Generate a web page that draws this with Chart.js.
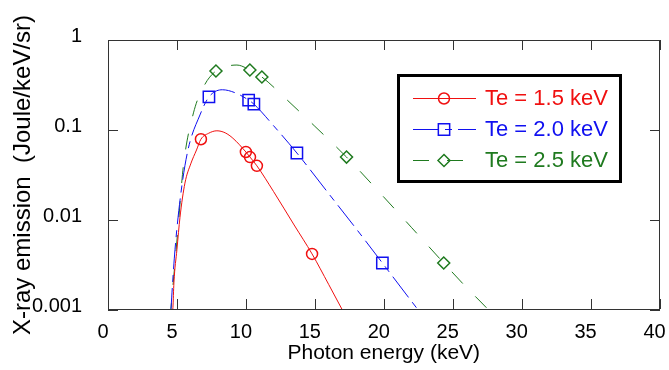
<!DOCTYPE html>
<html>
<head>
<meta charset="utf-8">
<script src="https://cdn.jsdelivr.net/npm/chart.js@4/dist/chart.umd.min.js"></script>
<style>
  html, body { margin: 0; padding: 0; background: #fff; }
  #wrap { width: 669px; height: 370px; }
</style>
</head>
<body>
<div id="wrap"><canvas id="spectrum" width="669" height="370"></canvas></div>
<script>
// photon energy (keV) / emission (Joule/keV/sr)
const te15Energy   = [4.6, 4.71, 4.78, 5.0, 5.22, 5.58, 6.0, 6.42, 6.74, 7.3, 7.9, 8.5, 9.06, 10.0, 10.3, 10.8, 12.0, 13.5, 14.8, 16.0, 17.0, 17.4];
const te15Emission = [0.0008, 0.00107, 0.002, 0.0047, 0.0107, 0.0257, 0.042, 0.060, 0.079, 0.092, 0.098, 0.093, 0.081, 0.057, 0.050, 0.040, 0.0208, 0.0088, 0.0042, 0.00193, 0.001, 0.00077];
const te15MarkEnergy   = [6.74, 10.0, 10.3, 10.8, 14.8];
const te15MarkEmission = [0.079, 0.057, 0.050, 0.040, 0.0042];

const te20Energy   = [4.55, 4.64, 4.86, 5.29, 5.8, 6.67, 7.32, 8.3, 9.2, 10.2, 10.58, 12.0, 13.7, 16.0, 18.0, 19.9, 22.5, 23.0];
const te20Emission = [0.0009, 0.00155, 0.0047, 0.02, 0.06, 0.147, 0.233, 0.28, 0.26, 0.215, 0.194, 0.112, 0.0555, 0.0197, 0.008, 0.00333, 0.001, 0.0008];
const te20MarkEnergy   = [7.32, 10.2, 10.58, 13.7, 19.9];
const te20MarkEmission = [0.233, 0.215, 0.194, 0.0555, 0.00333];

const te25Energy   = [4.5, 4.73, 5.09, 5.46, 6.2, 7.0, 7.83, 8.6, 9.35, 10.29, 11.16, 13.0, 15.0, 17.3, 20.0, 22.0, 24.35, 26.0, 27.6, 28.0];
const te25Emission = [0.0008, 0.002, 0.0085, 0.039, 0.155, 0.316, 0.453, 0.51, 0.527, 0.464, 0.388, 0.215, 0.11, 0.050, 0.018, 0.0083, 0.00333, 0.00178, 0.001, 0.00085];
const te25MarkEnergy   = [7.83, 10.29, 11.16, 17.3, 24.35];
const te25MarkEmission = [0.453, 0.464, 0.388, 0.050, 0.00333];

const seriesLabels = ['Te = 1.5 keV', 'Te = 2.0 keV', 'Te = 2.5 keV'];
const yTickValues = [0.001, 0.01, 0.1, 1];

const FONT = '"Liberation Sans", Arial, Helvetica, sans-serif';

function pts(xs, ys) {
  return xs.map((x, i) => ({ x: x, y: ys[i] }));
}

function curve(xs, ys, color, dash) {
  return {
    data: pts(xs, ys), borderColor: color, borderWidth: 1, borderDash: dash,
    pointRadius: 0, fill: false, cubicInterpolationMode: 'monotone'
  };
}

function marks(xs, ys, color, style, r) {
  return {
    data: pts(xs, ys), showLine: false, borderColor: color,
    pointStyle: style, pointRadius: r, pointBorderWidth: 1.5,
    pointBorderColor: color, pointBackgroundColor: 'rgba(0,0,0,0)'
  };
}

// own marker drawing for the legend
function drawMark(ctx, style, x, y, r) {
  ctx.beginPath();
  if (style == 'circle') {
    ctx.arc(x, y, r, 0, Math.PI * 2);
  } else if (style == 'rect') {
    var s = r * Math.SQRT1_2;
    ctx.rect(x - s, y - s, 2 * s, 2 * s);
  } else {
    ctx.moveTo(x, y - r); ctx.lineTo(x + r, y); ctx.lineTo(x, y + r); ctx.lineTo(x - r, y); ctx.closePath();
  }
  ctx.stroke();
}

// frame with inward ticks on all four sides
const frameTicks = {
  id: 'frameTicks',
  afterDraw(chart) {
    const { ctx, chartArea: a, scales: { x, y } } = chart;
    const L = Math.round(a.left), R = Math.round(a.right) - 1, T = Math.round(a.top), B = Math.round(a.bottom) - 1;
    ctx.save();
    ctx.fillStyle = '#333';
    ctx.fillRect(L, T, R - L + 1, 1);
    ctx.fillRect(L, B, R - L + 1, 1);
    ctx.fillRect(L, T, 1, B - T + 1);
    ctx.fillRect(R, T, 1, B - T + 1);
    x.ticks.forEach(t => {
      const px = Math.round(x.getPixelForValue(t.value));
      ctx.fillRect(px, B - 10, 1, 10);
      ctx.fillRect(px, T, 1, 10);
    });
    y.ticks.forEach(t => {
      const py = Math.round(y.getPixelForValue(t.value));
      ctx.fillRect(L, py, 10, 1);
      ctx.fillRect(R - 9, py, 10, 1);
    });
    ctx.restore();
  }
};

const legendBox = {
  id: 'legendBox',
  afterDraw(chart) {
    const ctx = chart.ctx;
    ctx.save();
    ctx.lineWidth = 3;
    ctx.strokeStyle = '#000';
    ctx.strokeRect(398.5, 75.5, 222, 106);
    seriesLabels.forEach((label, i) => {
      const line = chart.data.datasets[i * 2];
      const mk = chart.data.datasets[i * 2 + 1];
      const ly = 98 + i * 31;
      ctx.strokeStyle = line.borderColor;
      ctx.lineWidth = 1;
      ctx.setLineDash(line.borderDash || []);
      ctx.beginPath(); ctx.moveTo(413, ly + 0.5); ctx.lineTo(476, ly + 0.5); ctx.stroke();
      ctx.setLineDash([]);
      ctx.lineWidth = 1.5;
      drawMark(ctx, mk.pointStyle, 444, ly + 0.5, mk.pointRadius);
      ctx.fillStyle = line.borderColor;
      ctx.font = '22px ' + FONT;
      ctx.textBaseline = 'middle';
      ctx.fillText(label, 485, ly + 1);
    });
    ctx.restore();
  }
};

const RED = '#f01010', BLUE = '#1010f0', GREEN = '#1f7a1f';

new Chart(document.getElementById('spectrum'), {
  type: 'line',
  data: {
    datasets: [
      curve(te15Energy, te15Emission, RED, []),
      marks(te15MarkEnergy, te15MarkEmission, RED, 'circle', 5.5),
      curve(te20Energy, te20Emission, BLUE, [26, 6, 7, 6]),
      marks(te20MarkEnergy, te20MarkEmission, BLUE, 'rect', 8),
      curve(te25Energy, te25Emission, GREEN, [16, 18]),
      marks(te25MarkEnergy, te25MarkEmission, GREEN, 'rectRot', 6)
    ]
  },
  options: {
    responsive: false,
    animation: false,
    layout: { padding: { top: 40, right: 8, left: 0, bottom: 0 } },
    plugins: { legend: { display: false }, tooltip: { enabled: false } },
    scales: {
      x: {
        type: 'linear', min: 0, max: 40,
        grid: { display: false }, border: { display: false },
        ticks: { stepSize: 5, color: '#000', font: { family: FONT, size: 20 }, padding: 2, labelOffset: -5, maxRotation: 0 },
        title: { display: true, text: 'Photon energy (keV)', color: '#000', font: { family: FONT, size: 21 }, padding: { top: 0, bottom: 4 } },
        afterFit: s => { s.height = 60; s.paddingLeft = 0; s.paddingRight = 0; }
      },
      y: {
        type: 'logarithmic', min: 0.001, max: 1,
        grid: { display: false }, border: { display: false },
        afterBuildTicks: s => { s.ticks = yTickValues.map(v => ({ value: v })); },
        ticks: { color: '#000', font: { family: FONT, size: 20 }, padding: 18, labelOffset: -4, callback: v => String(v) },
        title: { display: true, text: 'X-ray emission  (Joule/keV/sr)', color: '#000', font: { family: FONT, size: 24 }, padding: { top: 9, bottom: 0 } },
        afterFit: s => { s.width = 108; s.paddingTop = 0; s.paddingBottom = 0; }
      }
    }
  },
  plugins: [frameTicks, legendBox]
});
</script>
</body>
</html>
